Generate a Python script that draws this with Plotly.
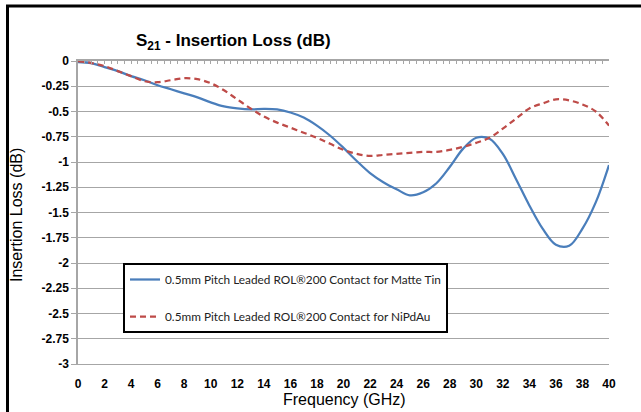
import plotly.graph_objects as go

freq_ghz = list(range(0, 41))
matte_tin = [-0.01, -0.02, -0.06, -0.10, -0.15, -0.19, -0.24, -0.28, -0.32, -0.36,
             -0.41, -0.45, -0.47, -0.48, -0.475, -0.48, -0.51, -0.56, -0.64, -0.74,
             -0.86, -0.99, -1.11, -1.20, -1.27, -1.33, -1.30, -1.21, -1.05, -0.87,
             -0.76, -0.77, -0.92, -1.17, -1.43, -1.66, -1.82, -1.83, -1.66, -1.40,
             -1.03]
nipdau = [0.0, -0.02, -0.05, -0.10, -0.15, -0.20, -0.21, -0.19, -0.17, -0.18,
          -0.22, -0.29, -0.38, -0.47, -0.55, -0.61, -0.66, -0.71, -0.76, -0.82,
          -0.88, -0.92, -0.94, -0.93, -0.92, -0.91, -0.90, -0.90, -0.88, -0.85,
          -0.81, -0.76, -0.67, -0.57, -0.47, -0.42, -0.38, -0.39, -0.43, -0.50,
          -0.64]
series_names = ["0.5mm Pitch Leaded ROL®200 Contact for Matte Tin",
                "0.5mm Pitch Leaded ROL®200 Contact for NiPdAu"]
x_ticks = list(range(0, 41, 2))
y_ticks = [0, -0.25, -0.5, -0.75, -1, -1.25, -1.5, -1.75, -2, -2.25, -2.5, -2.75, -3]
y_tick_text = ["0", "-0.25", "-0.5", "-0.75", "-1", "-1.25", "-1.5", "-1.75", "-2",
               "-2.25", "-2.5", "-2.75", "-3"]

W, H = 641, 412
L, R, T, B = 78, 609, 61, 364


def px(x):
    return (x - L) / (R - L)


def py(y):
    return (B - y) / (B - T)


fig = go.Figure()
fig.add_trace(go.Scatter(x=freq_ghz, y=matte_tin, mode="lines", name=series_names[0],
                         line=dict(color="#4A7EBB", width=2.25, shape="spline"),
                         legendgroup="a"))
fig.add_trace(go.Scatter(x=freq_ghz, y=nipdau, mode="lines", name=series_names[1],
                         line=dict(color="#BE4B48", width=2.25, dash="6px,4px", shape="spline"),
                         legendgroup="b"))
# invisible trace to carry the top axis line with minor ticks
fig.add_trace(go.Scatter(x=[0, 40], y=[0, 0], xaxis="x2", mode="lines",
                         line=dict(width=0), showlegend=False, hoverinfo="skip"))

grid = "#a6a6a6"
fig.update_layout(
    width=W, height=H,
    margin=dict(l=L, r=W - R, t=T, b=H - B),
    paper_bgcolor="white", plot_bgcolor="white",
    font=dict(family="Liberation Sans, Arial", color="black"),
    showlegend=True,
    legend=dict(x=px(123), y=py(263), xanchor="left", yanchor="top",
                bordercolor="black", borderwidth=2, bgcolor="white",
                font=dict(family="Lato", size=11.8, color="#222"),
                tracegroupgap=18, traceorder="grouped"),
    xaxis=dict(range=[0, 40], tickvals=x_ticks, ticktext=[f"<b>{v}</b>" for v in x_ticks],
               ticks="outside", ticklen=9,
               tickcolor="rgba(0,0,0,0)", showgrid=False, zeroline=False,
               showline=True, linecolor=grid, linewidth=1,
               tickfont=dict(size=12)),
    xaxis2=dict(range=[0, 40], overlaying="x", side="top", showline=True,
                linecolor=grid, linewidth=1.5, ticks="inside", dtick=0.5, tick0=0,
                ticklen=3, tickcolor=grid, showticklabels=False, showgrid=False,
                zeroline=False),
    yaxis=dict(range=[-3, 0], tickvals=y_ticks, ticktext=[f"<b>{t}</b>" for t in y_tick_text],
               ticks="outside", ticklen=5, tickcolor=grid,
               showgrid=True, gridcolor=grid, gridwidth=1, zeroline=False,
               showline=True, linecolor=grid, linewidth=1.5,
               tickfont=dict(size=12)),
)

fig.add_annotation(text="<b>S<sub>21</sub> - Insertion Loss (dB)</b>", xref="paper", yref="paper",
                   x=px(134), y=py(42), xanchor="left", yanchor="middle", showarrow=False,
                   font=dict(size=17, family="Liberation Sans, Arial"))
fig.add_annotation(text="Insertion Loss (dB)", xref="paper", yref="paper",
                   x=px(17), y=py(215), xanchor="center", yanchor="middle", showarrow=False,
                   textangle=-90, font=dict(size=16, family="Liberation Sans, Arial"))
fig.add_annotation(text="Frequency (GHz)", xref="paper", yref="paper",
                   x=px(344), y=py(399), xanchor="center", yanchor="middle", showarrow=False,
                   font=dict(size=16, family="Liberation Sans, Arial"))

# outer chart border (top and left edges visible in the reference)
fig.add_shape(type="line", xref="paper", yref="paper", x0=px(6), x1=px(660), y0=py(6), y1=py(6),
              line=dict(color="black", width=3))
fig.add_shape(type="line", xref="paper", yref="paper", x0=px(7.5), x1=px(7.5), y0=py(6), y1=py(430),
              line=dict(color="black", width=3))

fig.write_html("out.html", config={"displayModeBar": False},
               post_script="document.body.style.margin='0';")
